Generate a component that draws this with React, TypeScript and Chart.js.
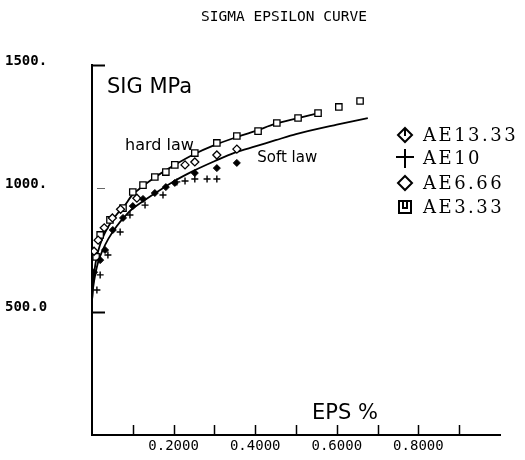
import React, { useEffect, useRef } from "react";
import { Chart, registerables } from "chart.js";

Chart.register(...registerables);

// ---------- text ----------
const TITLE = "SIGMA EPSILON CURVE";
const Y_TITLE = "SIG MPa";
const X_TITLE = "EPS %";
const HARD_LABEL = "hard law";
const SOFT_LABEL = "Soft law";
const SERIES_NAMES = ["AE13.33", "AE10", "AE6.66", "AE3.33"];

// ---------- axes ----------
const X_MIN = 0;
const X_MAX = 1.0;
const X_STEP = 0.1;
const X_LABELLED = [0.2, 0.4, 0.6, 0.8];
const X_LABEL_TEXT = ["0.2000", "0.4000", "0.6000", "0.8000"];
const X_MARK_TICKS = [0.1, 0.2, 0.3, 0.4, 0.5, 0.6, 0.7, 0.8, 0.9];
const Y_MIN = 0;
const Y_MAX = 1500;
const Y_STEP = 500;
const Y_LABELLED = [500, 1000, 1500];
const Y_LABEL_TEXT = ["500.0", "1000.", "1500."];

// ---------- data (EPS %, SIG MPa) ----------
const AE13_33: [number, number][] = [
  [0.005, 660], [0.02, 709], [0.032, 750], [0.051, 831], [0.076, 880],
  [0.1, 928], [0.125, 957], [0.154, 981], [0.181, 1005], [0.203, 1022],
  [0.252, 1062], [0.306, 1082], [0.355, 1103],
];
const AE10: [number, number][] = [
  [0.012, 588], [0.02, 649], [0.039, 730], [0.069, 823], [0.093, 892],
  [0.13, 932], [0.174, 973], [0.208, 1026], [0.228, 1030], [0.252, 1038],
  [0.282, 1038], [0.306, 1038],
];
const AE6_66: [number, number][] = [
  [0.005, 745], [0.015, 790], [0.03, 840], [0.05, 880], [0.07, 915],
  [0.11, 960], [0.228, 1095], [0.252, 1107], [0.306, 1135], [0.355, 1159],
];
const AE3_33: [number, number][] = [
  [0.01, 722], [0.02, 811], [0.044, 872], [0.076, 920], [0.1, 985],
  [0.125, 1013], [0.154, 1046], [0.181, 1066], [0.203, 1095], [0.252, 1143],
  [0.306, 1184], [0.355, 1212], [0.407, 1232], [0.453, 1265], [0.505, 1285],
  [0.554, 1305], [0.605, 1330], [0.657, 1354],
];
const HARD_LAW: [number, number][] = [
  [0, 545], [0.003, 620], [0.008, 690], [0.015, 745], [0.025, 795],
  [0.04, 845], [0.06, 893], [0.08, 930], [0.1, 975], [0.15, 1040],
  [0.2, 1092], [0.25, 1138], [0.3, 1175], [0.35, 1205], [0.4, 1232],
  [0.45, 1262], [0.5, 1283], [0.555, 1305],
];
const SOFT_LAW: [number, number][] = [
  [0, 545], [0.003, 600], [0.008, 650], [0.015, 700], [0.025, 745],
  [0.04, 795], [0.06, 845], [0.08, 885], [0.1, 918], [0.15, 975],
  [0.2, 1028], [0.25, 1072], [0.3, 1110], [0.35, 1145], [0.4, 1170],
  [0.45, 1195], [0.5, 1220], [0.6, 1258], [0.676, 1285],
];

// annotation anchors in data units
const HARD_LABEL_AT: [number, number] = [0.081, 1171];
const SOFT_LABEL_AT: [number, number] = [0.405, 1123];

const toPts = (a: [number, number][]) => a.map(([x, y]) => ({ x, y }));

const decorPlugin = {
  id: "decor",
  afterDraw(chart: any) {
    const { ctx, chartArea, scales } = chart;
    const xs = scales.x;
    const ys = scales.y;
    ctx.save();
    ctx.strokeStyle = "#000";
    ctx.fillStyle = "#000";
    // inward x ticks
    ctx.lineWidth = 1.5;
    for (const v of X_MARK_TICKS) {
      const px = Math.round(xs.getPixelForValue(v)) + 0.5;
      ctx.beginPath();
      ctx.moveTo(px, chartArea.bottom);
      ctx.lineTo(px, chartArea.bottom - 10);
      ctx.stroke();
    }
    // inward y ticks
    for (const v of Y_LABELLED) {
      const py = Math.round(ys.getPixelForValue(v)) + 0.5;
      ctx.lineWidth = v === 1000 ? 1 : 2;
      ctx.strokeStyle = v === 1000 ? "#666" : "#000";
      ctx.beginPath();
      ctx.moveTo(chartArea.left + (v === 1000 ? 5 : 0), py);
      ctx.lineTo(chartArea.left + 13, py);
      ctx.stroke();
    }
    ctx.strokeStyle = "#000";
    // title
    ctx.textBaseline = "middle";
    ctx.textAlign = "center";
    ctx.font = "14.5px 'DejaVu Sans Mono'";
    ctx.fillText(TITLE, 284, 17);
    // axis titles
    ctx.textAlign = "left";
    ctx.font = "21px 'DejaVu Sans'";
    ctx.fillText(Y_TITLE, 107, 88);
    ctx.fillText(X_TITLE, 312, 414);
    // curve annotations
    ctx.font = "16px 'DejaVu Sans'";
    ctx.fillText(HARD_LABEL, xs.getPixelForValue(HARD_LABEL_AT[0]), ys.getPixelForValue(HARD_LABEL_AT[1]));
    ctx.font = "15px 'DejaVu Sans'";
    ctx.fillText(SOFT_LABEL, xs.getPixelForValue(SOFT_LABEL_AT[0]), ys.getPixelForValue(SOFT_LABEL_AT[1]));
    // legend
    const rows = [135, 158, 183, 207];
    const sx = 405;
    ctx.font = "18px 'DejaVu Serif'";
    try { (ctx as any).letterSpacing = "2.5px"; } catch (e) { /* ignore */ }
    SERIES_NAMES.forEach((name, i) => {
      const y = rows[i];
      ctx.fillStyle = "#000";
      ctx.fillText(name, 423, y + 1);
      ctx.lineWidth = 2;
      ctx.beginPath();
      if (i === 0) {
        ctx.moveTo(sx, y - 7); ctx.lineTo(sx + 7, y); ctx.lineTo(sx, y + 7); ctx.lineTo(sx - 7, y); ctx.closePath();
        ctx.stroke();
        ctx.beginPath(); ctx.moveTo(sx, y - 7); ctx.lineTo(sx, y + 1); ctx.stroke();
      } else if (i === 1) {
        ctx.moveTo(sx - 9, y - 1); ctx.lineTo(sx + 9, y - 1);
        ctx.moveTo(sx, y - 9); ctx.lineTo(sx, y + 10);
        ctx.stroke();
      } else if (i === 2) {
        ctx.moveTo(sx, y - 7); ctx.lineTo(sx + 7, y); ctx.lineTo(sx, y + 7); ctx.lineTo(sx - 7, y); ctx.closePath();
        ctx.stroke();
      } else {
        ctx.strokeRect(sx - 6, y - 6, 12, 12);
        ctx.beginPath(); ctx.moveTo(sx - 2, y - 6); ctx.lineTo(sx - 2, y + 1); ctx.lineTo(sx + 2, y + 1); ctx.lineTo(sx + 2, y - 6); ctx.stroke();
      }
    });
    ctx.restore();
  },
};

export default function App() {
  const ref = useRef<HTMLCanvasElement | null>(null);
  useEffect(() => {
    if (!ref.current) return;
    const chart = new Chart(ref.current, {
      type: "scatter",
      data: {
        datasets: [
          {
            label: "hard law", data: toPts(HARD_LAW), showLine: true, pointRadius: 0,
            borderColor: "#000", borderWidth: 1.8, tension: 0.3, order: 5,
          },
          {
            label: "soft law", data: toPts(SOFT_LAW), showLine: true, pointRadius: 0,
            borderColor: "#000", borderWidth: 1.8, tension: 0.3, order: 5,
          },
          {
            label: SERIES_NAMES[0], data: toPts(AE13_33), pointStyle: "rectRot", pointRadius: 3.5,
            backgroundColor: "#000", borderColor: "#000", borderWidth: 1,
          },
          {
            label: SERIES_NAMES[1], data: toPts(AE10), pointStyle: "cross", pointRadius: 3.5,
            borderColor: "#000", borderWidth: 1.4,
          },
          {
            label: SERIES_NAMES[2], data: toPts(AE6_66), pointStyle: "rectRot", pointRadius: 4,
            backgroundColor: "#fff", borderColor: "#000", borderWidth: 1.3,
          },
          {
            label: SERIES_NAMES[3], data: toPts(AE3_33), pointStyle: "rect", pointRadius: 4.5,
            backgroundColor: "#fff", borderColor: "#000", borderWidth: 1.3,
          },
        ],
      },
      options: {
        animation: false,
        responsive: false,
        maintainAspectRatio: false,
        layout: { padding: { left: 5, top: 65, right: 25, bottom: 0 } },
        plugins: { legend: { display: false }, tooltip: { enabled: false }, title: { display: false } },
        scales: {
          x: {
            type: "linear", min: X_MIN, max: X_MAX,
            grid: { display: false, drawTicks: false },
            border: { display: true, color: "#000", width: 2 },
            afterFit: (s: any) => { s.height = 25; },
            ticks: {
              stepSize: X_STEP, autoSkip: false, maxRotation: 0, padding: 3,
              color: "#000", font: { family: "'DejaVu Sans Mono'", size: 14 },
              callback: (v: any) => {
                const i = X_LABELLED.findIndex((t) => Math.abs(t - Number(v)) < 1e-6);
                return i >= 0 ? X_LABEL_TEXT[i] : "";
              },
            },
          },
          y: {
            type: "linear", min: Y_MIN, max: Y_MAX,
            grid: { display: false, drawTicks: false },
            border: { display: true, color: "#000", width: 2 },
            afterFit: (s: any) => { s.width = 87; },
            ticks: {
              stepSize: Y_STEP, crossAlign: "far", labelOffset: -4,
              color: "#000", font: { family: "'DejaVu Sans Mono'", size: 14, weight: "bold" },
              callback: (v: any) => {
                const i = Y_LABELLED.indexOf(Number(v));
                return i >= 0 ? Y_LABEL_TEXT[i] : "";
              },
            },
          },
        },
      },
      plugins: [decorPlugin],
    } as any);
    return () => chart.destroy();
  }, []);
  return (
    <div style={{ position: "fixed", left: 0, top: 0, width: 525, height: 460, background: "#fff" }}>
      <canvas ref={ref} width={525} height={460} style={{ display: "block" }} />
    </div>
  );
}
